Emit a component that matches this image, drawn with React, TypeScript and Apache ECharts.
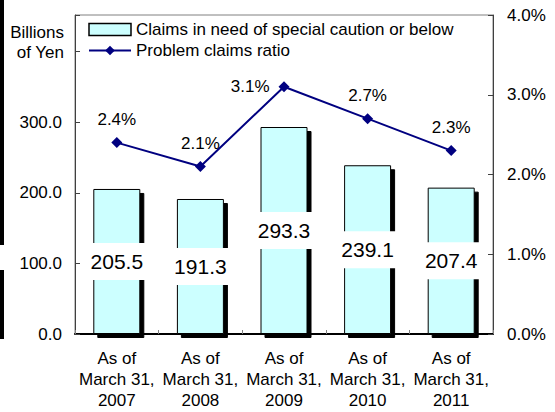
import React, { useEffect, useRef } from 'react';
import * as echarts from 'echarts';

const categories = [
  'As of\nMarch 31,\n2007',
  'As of\nMarch 31,\n2008',
  'As of\nMarch 31,\n2009',
  'As of\nMarch 31,\n2010',
  'As of\nMarch 31,\n2011',
];
const claimsValues = [205.5, 191.3, 293.3, 239.1, 207.4];
const ratioValues = [2.4, 2.1, 3.1, 2.7, 2.3];
const barName = 'Claims in need of special caution or below';
const lineName = 'Problem claims ratio';
const leftAxisName = 'Billions\nof Yen';

const FONT = '"Liberation Sans", Arial, sans-serif';

export default function App() {
  const ref = useRef<HTMLDivElement>(null);
  useEffect(() => {
    if (!ref.current) return;
    const chart = echarts.init(ref.current, undefined, { renderer: 'svg' });
    chart.setOption({
      animation: false,
      textStyle: { fontFamily: FONT, color: '#000' },
      grid: {
        left: 75,
        right: 62,
        top: 15,
        bottom: 78,
        show: true,
        borderColor: '#808080',
        borderWidth: 1,
      },
      legend: {
        orient: 'vertical',
        left: 88,
        top: 21,
        padding: 0,
        itemWidth: 42,
        itemHeight: 12,
        itemGap: 4,
        textStyle: { fontSize: 17, color: '#000', fontFamily: FONT },
        data: [
          {
            name: barName,
            icon: 'rect',
            itemStyle: { shadowColor: 'rgba(0,0,0,0)', shadowOffsetX: 0, shadowOffsetY: 0, borderWidth: 1.5 },
          },
          { name: lineName },
        ],
      },
      xAxis: {
        type: 'category',
        data: categories,
        axisLine: { lineStyle: { color: '#000', width: 2 } },
        axisTick: { show: true, inside: true, length: 4, lineStyle: { color: '#808080' } },
        axisLabel: {
          interval: 0,
          fontSize: 17,
          lineHeight: 21,
          margin: 14,
          color: '#000',
          fontFamily: FONT,
        },
      },
      yAxis: [
        {
          type: 'value',
          min: 0,
          max: 452,
          interval: 100,
          name: leftAxisName,
          nameLocation: 'end',
          nameGap: -7,
          nameTextStyle: {
            fontSize: 17,
            lineHeight: 20,
            align: 'right',
            verticalAlign: 'top',
            padding: [0, 11, 0, 0],
            color: '#000',
            fontFamily: FONT,
          },
          splitLine: { show: false },
          axisLine: { show: true, lineStyle: { color: '#404040' } },
          axisTick: { show: true, inside: true, length: 5, lineStyle: { color: '#404040' } },
          axisLabel: {
            fontSize: 17,
            margin: 13,
            color: '#000',
            fontFamily: FONT,
            formatter: (v: number) => (v <= 300 ? v.toFixed(1) : ''),
          },
        },
        {
          type: 'value',
          min: 0,
          max: 4,
          interval: 1,
          splitLine: { show: false },
          axisLine: { show: true, lineStyle: { color: '#404040' } },
          axisTick: { show: true, inside: true, length: 5, lineStyle: { color: '#404040' } },
          axisLabel: {
            fontSize: 17,
            margin: 14,
            color: '#000',
            fontFamily: FONT,
            formatter: (v: number) => v.toFixed(1) + '%',
          },
        },
      ],
      series: [
        {
          name: barName,
          type: 'bar',
          yAxisIndex: 0,
          data: claimsValues,
          barWidth: 47,
          itemStyle: {
            color: '#CCFFFF',
            borderColor: '#000',
            borderWidth: 1,
            shadowColor: '#000',
            shadowBlur: 0,
            shadowOffsetX: 4,
            shadowOffsetY: 4,
          },
          label: {
            show: true,
            position: 'inside',
            fontSize: 21,
            color: '#000',
            fontFamily: FONT,
            backgroundColor: '#fff',
            padding: [8, 4],
            formatter: (p: any) => Number(p.value).toFixed(1),
          },
          z: 2,
        },
        {
          name: lineName,
          type: 'line',
          yAxisIndex: 1,
          data: ratioValues.map((v, i) =>
            i === 2 ? { value: v, label: { position: 'left', distance: 9 } } : v
          ),
          symbol: 'diamond',
          symbolSize: 11,
          lineStyle: { color: '#000080', width: 2 },
          itemStyle: { color: '#000080' },
          label: {
            show: true,
            position: 'top',
            distance: 9,
            fontSize: 17,
            color: '#000',
            fontFamily: FONT,
            formatter: (p: any) => Number(p.value).toFixed(1) + '%',
          },
          z: 3,
        },
      ],
      graphic: [
        { type: 'rect', left: 0, top: 0, shape: { width: 4, height: 245 }, style: { fill: '#000' }, silent: true },
        { type: 'rect', left: 0, top: 270, shape: { width: 4, height: 69 }, style: { fill: '#000' }, silent: true },
      ],
    });
    return () => chart.dispose();
  }, []);
  return (
    <div
      ref={ref}
      style={{ position: 'fixed', left: 0, top: 0, width: 555, height: 412, background: '#fff' }}
    />
  );
}
